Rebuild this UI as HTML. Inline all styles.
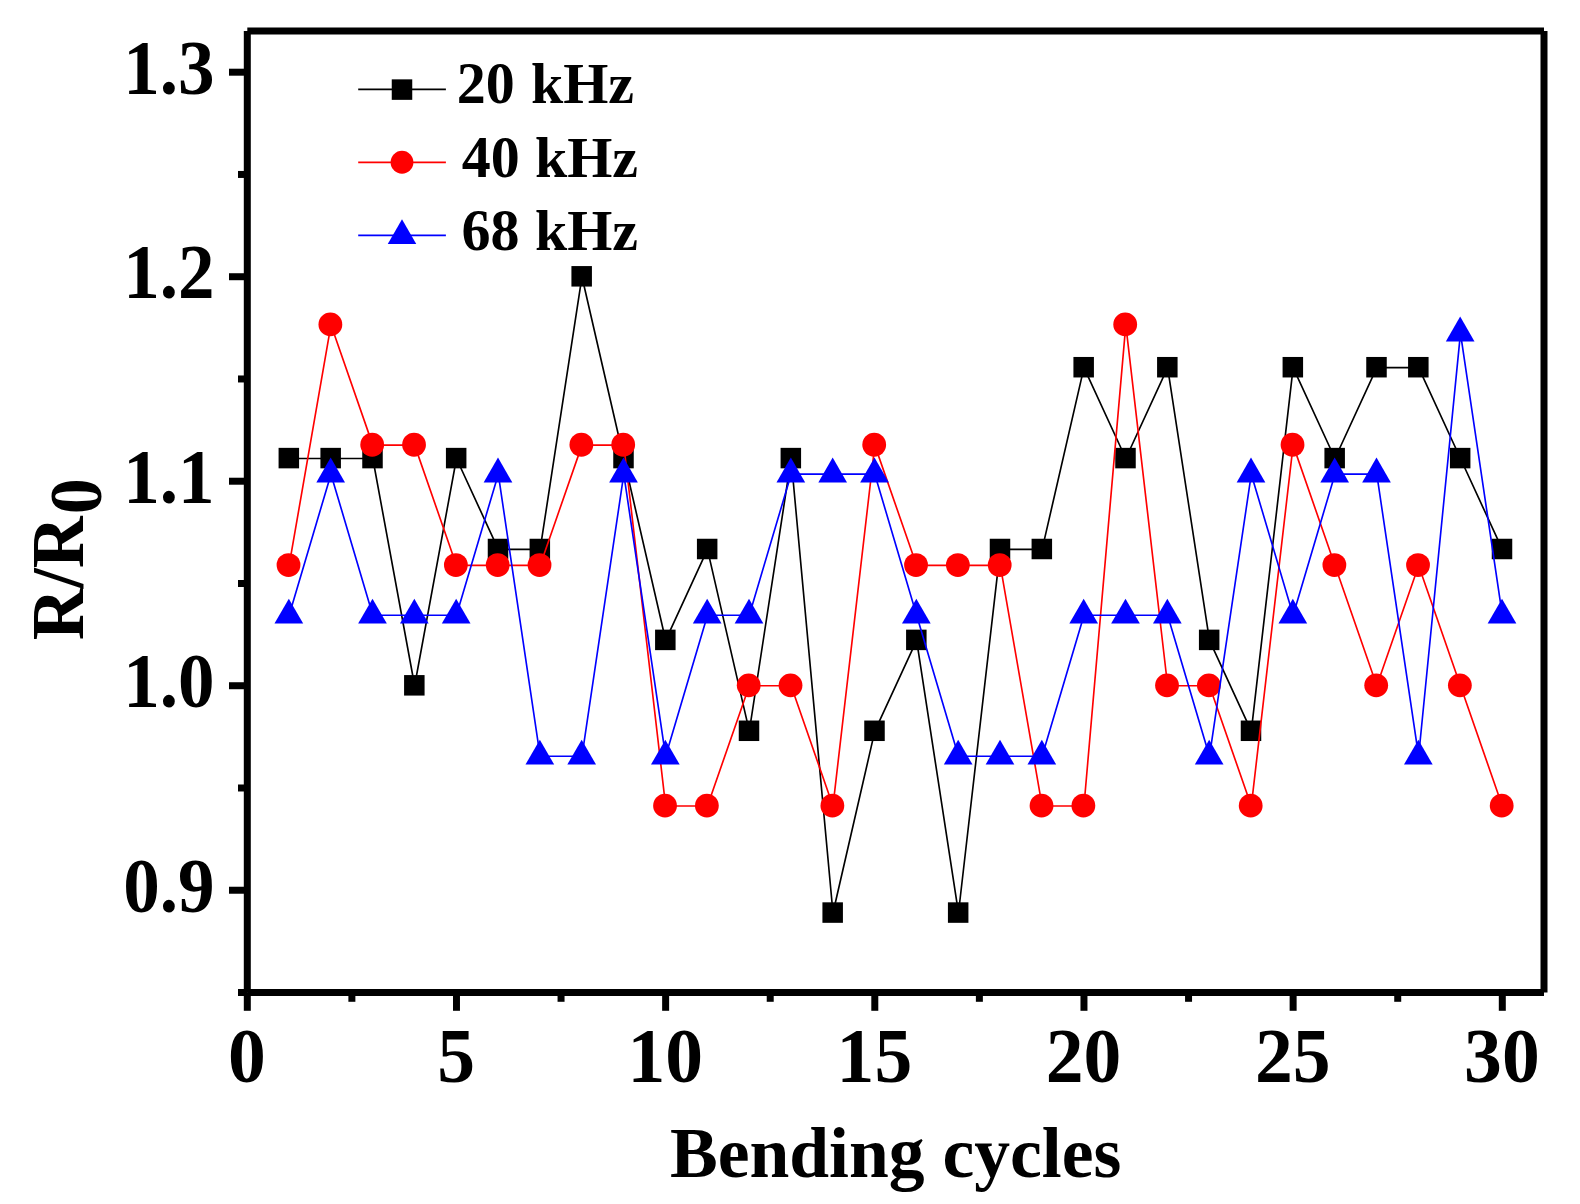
<!DOCTYPE html>
<html lang="en"><head><meta charset="utf-8"><title>R/R0 vs Bending cycles</title>
<style>html,body{margin:0;padding:0;background:#fff;overflow:hidden}svg{display:block}text{font-family:"Liberation Serif",serif;font-weight:bold;fill:#000}</style>
</head><body>
<svg width="1580" height="1204" viewBox="0 0 1580 1204">
<rect width="1580" height="1204" fill="#fff"/>
<polyline points="289.13,458.5 330.97,458.5 372.8,458.5 414.63,685.73 456.47,458.5 498.3,549.39 540.13,549.39 581.97,276.72 623.8,458.5 665.63,640.29 707.47,549.39 749.3,731.18 791.13,458.5 832.97,912.97 874.8,731.18 916.63,640.29 958.47,912.97 1000.3,549.39 1042.13,549.39 1083.97,367.61 1125.8,458.5 1167.63,367.61 1209.47,640.29 1251.3,731.18 1293.13,367.61 1334.97,458.5 1376.8,367.61 1418.63,367.61 1460.47,458.5 1502.3,549.39" fill="none" stroke="#000" stroke-width="1.65" stroke-linejoin="round"/>
<g fill="#000">
<rect x="278.58" y="447.85" width="20.5" height="20.5"/>
<rect x="320.42" y="447.85" width="20.5" height="20.5"/>
<rect x="362.25" y="447.85" width="20.5" height="20.5"/>
<rect x="404.08" y="675.08" width="20.5" height="20.5"/>
<rect x="445.92" y="447.85" width="20.5" height="20.5"/>
<rect x="487.75" y="538.75" width="20.5" height="20.5"/>
<rect x="529.58" y="538.75" width="20.5" height="20.5"/>
<rect x="571.42" y="266.07" width="20.5" height="20.5"/>
<rect x="613.25" y="447.85" width="20.5" height="20.5"/>
<rect x="655.08" y="629.64" width="20.5" height="20.5"/>
<rect x="696.92" y="538.75" width="20.5" height="20.5"/>
<rect x="738.75" y="720.53" width="20.5" height="20.5"/>
<rect x="780.58" y="447.85" width="20.5" height="20.5"/>
<rect x="822.42" y="902.32" width="20.5" height="20.5"/>
<rect x="864.25" y="720.53" width="20.5" height="20.5"/>
<rect x="906.08" y="629.64" width="20.5" height="20.5"/>
<rect x="947.92" y="902.32" width="20.5" height="20.5"/>
<rect x="989.75" y="538.75" width="20.5" height="20.5"/>
<rect x="1031.58" y="538.75" width="20.5" height="20.5"/>
<rect x="1073.42" y="356.96" width="20.5" height="20.5"/>
<rect x="1115.25" y="447.85" width="20.5" height="20.5"/>
<rect x="1157.08" y="356.96" width="20.5" height="20.5"/>
<rect x="1198.92" y="629.64" width="20.5" height="20.5"/>
<rect x="1240.75" y="720.53" width="20.5" height="20.5"/>
<rect x="1282.58" y="356.96" width="20.5" height="20.5"/>
<rect x="1324.42" y="447.85" width="20.5" height="20.5"/>
<rect x="1366.25" y="356.96" width="20.5" height="20.5"/>
<rect x="1408.08" y="356.96" width="20.5" height="20.5"/>
<rect x="1449.92" y="447.85" width="20.5" height="20.5"/>
<rect x="1491.75" y="538.75" width="20.5" height="20.5"/>
</g>
<polyline points="289.13,565.43 330.97,324.83 372.8,445.13 414.63,445.13 456.47,565.43 498.3,565.43 540.13,565.43 581.97,445.13 623.8,445.13 665.63,806.03 707.47,806.03 749.3,685.73 791.13,685.73 832.97,806.03 874.8,445.13 916.63,565.43 958.47,565.43 1000.3,565.43 1042.13,806.03 1083.97,806.03 1125.8,324.83 1167.63,685.73 1209.47,685.73 1251.3,806.03 1293.13,445.13 1334.97,565.43 1376.8,685.73 1418.63,565.43 1460.47,685.73 1502.3,806.03" fill="none" stroke="#f00" stroke-width="1.65" stroke-linejoin="round"/>
<g fill="#f00">
<circle cx="288.53" cy="565.03" r="11.9"/>
<circle cx="330.37" cy="324.43" r="11.9"/>
<circle cx="372.2" cy="444.73" r="11.9"/>
<circle cx="414.03" cy="444.73" r="11.9"/>
<circle cx="455.87" cy="565.03" r="11.9"/>
<circle cx="497.7" cy="565.03" r="11.9"/>
<circle cx="539.53" cy="565.03" r="11.9"/>
<circle cx="581.37" cy="444.73" r="11.9"/>
<circle cx="623.2" cy="444.73" r="11.9"/>
<circle cx="665.03" cy="805.63" r="11.9"/>
<circle cx="706.87" cy="805.63" r="11.9"/>
<circle cx="748.7" cy="685.33" r="11.9"/>
<circle cx="790.53" cy="685.33" r="11.9"/>
<circle cx="832.37" cy="805.63" r="11.9"/>
<circle cx="874.2" cy="444.73" r="11.9"/>
<circle cx="916.03" cy="565.03" r="11.9"/>
<circle cx="957.87" cy="565.03" r="11.9"/>
<circle cx="999.7" cy="565.03" r="11.9"/>
<circle cx="1041.53" cy="805.63" r="11.9"/>
<circle cx="1083.37" cy="805.63" r="11.9"/>
<circle cx="1125.2" cy="324.43" r="11.9"/>
<circle cx="1167.03" cy="685.33" r="11.9"/>
<circle cx="1208.87" cy="685.33" r="11.9"/>
<circle cx="1250.7" cy="805.63" r="11.9"/>
<circle cx="1292.53" cy="444.73" r="11.9"/>
<circle cx="1334.37" cy="565.03" r="11.9"/>
<circle cx="1376.2" cy="685.33" r="11.9"/>
<circle cx="1418.03" cy="565.03" r="11.9"/>
<circle cx="1459.87" cy="685.33" r="11.9"/>
<circle cx="1501.7" cy="805.63" r="11.9"/>
</g>
<polyline points="289.13,615.21 330.97,474.17 372.8,615.21 414.63,615.21 456.47,615.21 498.3,474.17 540.13,756.26 581.97,756.26 623.8,474.17 665.63,756.26 707.47,615.21 749.3,615.21 791.13,474.17 832.97,474.17 874.8,474.17 916.63,615.21 958.47,756.26 1000.3,756.26 1042.13,756.26 1083.97,615.21 1125.8,615.21 1167.63,615.21 1209.47,756.26 1251.3,474.17 1293.13,615.21 1334.97,474.17 1376.8,474.17 1418.63,756.26 1460.47,333.13 1502.3,615.21" fill="none" stroke="#00f" stroke-width="1.65" stroke-linejoin="round"/>
<g fill="#00f">
<polygon points="288.83,598.64 303.18,623.5 274.48,623.5"/>
<polygon points="330.67,457.6 345.02,482.46 316.32,482.46"/>
<polygon points="372.5,598.64 386.85,623.5 358.15,623.5"/>
<polygon points="414.33,598.64 428.68,623.5 399.98,623.5"/>
<polygon points="456.17,598.64 470.52,623.5 441.82,623.5"/>
<polygon points="498,457.6 512.35,482.46 483.65,482.46"/>
<polygon points="539.83,739.69 554.18,764.54 525.48,764.54"/>
<polygon points="581.67,739.69 596.02,764.54 567.32,764.54"/>
<polygon points="623.5,457.6 637.85,482.46 609.15,482.46"/>
<polygon points="665.33,739.69 679.68,764.54 650.98,764.54"/>
<polygon points="707.17,598.64 721.52,623.5 692.82,623.5"/>
<polygon points="749,598.64 763.35,623.5 734.65,623.5"/>
<polygon points="790.83,457.6 805.18,482.46 776.48,482.46"/>
<polygon points="832.67,457.6 847.02,482.46 818.32,482.46"/>
<polygon points="874.5,457.6 888.85,482.46 860.15,482.46"/>
<polygon points="916.33,598.64 930.68,623.5 901.98,623.5"/>
<polygon points="958.17,739.69 972.52,764.54 943.82,764.54"/>
<polygon points="1000,739.69 1014.35,764.54 985.65,764.54"/>
<polygon points="1041.83,739.69 1056.18,764.54 1027.48,764.54"/>
<polygon points="1083.67,598.64 1098.02,623.5 1069.32,623.5"/>
<polygon points="1125.5,598.64 1139.85,623.5 1111.15,623.5"/>
<polygon points="1167.33,598.64 1181.68,623.5 1152.98,623.5"/>
<polygon points="1209.17,739.69 1223.52,764.54 1194.82,764.54"/>
<polygon points="1251,457.6 1265.35,482.46 1236.65,482.46"/>
<polygon points="1292.83,598.64 1307.18,623.5 1278.48,623.5"/>
<polygon points="1334.67,457.6 1349.02,482.46 1320.32,482.46"/>
<polygon points="1376.5,457.6 1390.85,482.46 1362.15,482.46"/>
<polygon points="1418.33,739.69 1432.68,764.54 1403.98,764.54"/>
<polygon points="1460.17,316.56 1474.52,341.42 1445.82,341.42"/>
<polygon points="1502,598.64 1516.35,623.5 1487.65,623.5"/>
</g>
<g stroke="#000" stroke-width="7" fill="none">
<line x1="247.3" y1="31" x2="1544" y2="31"/>
<line x1="247.3" y1="992.5" x2="1544" y2="992.5"/>
<line x1="247.3" y1="31" x2="247.3" y2="992.5"/>
<line x1="1544" y1="31" x2="1544" y2="992.5"/>
<line x1="229" y1="890.24" x2="247.3" y2="890.24"/>
<line x1="229" y1="685.73" x2="247.3" y2="685.73"/>
<line x1="229" y1="481.22" x2="247.3" y2="481.22"/>
<line x1="229" y1="276.72" x2="247.3" y2="276.72"/>
<line x1="229" y1="72.2" x2="247.3" y2="72.2"/>
<line x1="238" y1="992.5" x2="247.3" y2="992.5"/>
<line x1="238" y1="787.99" x2="247.3" y2="787.99"/>
<line x1="238" y1="583.48" x2="247.3" y2="583.48"/>
<line x1="238" y1="378.97" x2="247.3" y2="378.97"/>
<line x1="238" y1="174.46" x2="247.3" y2="174.46"/>
<line x1="247.3" y1="992.5" x2="247.3" y2="1010.8"/>
<line x1="456.47" y1="992.5" x2="456.47" y2="1010.8"/>
<line x1="665.63" y1="992.5" x2="665.63" y2="1010.8"/>
<line x1="874.8" y1="992.5" x2="874.8" y2="1010.8"/>
<line x1="1083.97" y1="992.5" x2="1083.97" y2="1010.8"/>
<line x1="1293.13" y1="992.5" x2="1293.13" y2="1010.8"/>
<line x1="1502.3" y1="992.5" x2="1502.3" y2="1010.8"/>
<line x1="351.88" y1="992.5" x2="351.88" y2="1001.8"/>
<line x1="561.05" y1="992.5" x2="561.05" y2="1001.8"/>
<line x1="770.22" y1="992.5" x2="770.22" y2="1001.8"/>
<line x1="979.38" y1="992.5" x2="979.38" y2="1001.8"/>
<line x1="1188.55" y1="992.5" x2="1188.55" y2="1001.8"/>
<line x1="1397.72" y1="992.5" x2="1397.72" y2="1001.8"/>
</g>
<g font-size="72">
<text transform="translate(214.5,911.94) scale(1.015,1.075)" text-anchor="end">0.9</text>
<text transform="translate(214.5,707.43) scale(1.015,1.075)" text-anchor="end">1.0</text>
<text transform="translate(214.5,502.92) scale(1.015,1.075)" text-anchor="end">1.1</text>
<text transform="translate(214.5,298.42) scale(1.015,1.075)" text-anchor="end">1.2</text>
<text transform="translate(214.5,93.9) scale(1.015,1.075)" text-anchor="end">1.3</text>
<text transform="translate(246.9,1081.8) scale(1.05,1.085)" text-anchor="middle">0</text>
<text transform="translate(456.07,1081.8) scale(1.05,1.085)" text-anchor="middle">5</text>
<text transform="translate(665.23,1081.8) scale(1.05,1.085)" text-anchor="middle">10</text>
<text transform="translate(874.4,1081.8) scale(1.05,1.085)" text-anchor="middle">15</text>
<text transform="translate(1083.57,1081.8) scale(1.05,1.085)" text-anchor="middle">20</text>
<text transform="translate(1292.73,1081.8) scale(1.05,1.085)" text-anchor="middle">25</text>
<text transform="translate(1501.9,1081.8) scale(1.05,1.085)" text-anchor="middle">30</text>
<text x="895.65" y="1177.3" text-anchor="middle" font-size="71.6">Bending cycles</text>
<text transform="translate(83.1,640.2) rotate(-90) scale(1,1.03)">R/R</text>
<text transform="translate(101.3,514.2) rotate(-90) scale(1.0,1.04)">0</text>
</g>
<g font-size="58">
<line x1="358.2" y1="89.4" x2="445.9" y2="89.4" stroke="#000" stroke-width="1.7"/>
<rect x="391.75" y="79.35" width="20.5" height="20.5" fill="#000"/>
<text transform="translate(456.8,103.2) scale(1.0,1.03)">20</text>
<text x="634" y="103.2" text-anchor="end">kHz</text>
<line x1="358.2" y1="162.3" x2="445.9" y2="162.3" stroke="#f00" stroke-width="1.7"/>
<circle cx="402" cy="162.25" r="11.4" fill="#f00"/>
<text transform="translate(461.8,176.7) scale(1.0,1.03)">40</text>
<text x="638" y="176.7" text-anchor="end">kHz</text>
<line x1="358.2" y1="235.4" x2="445.9" y2="235.4" stroke="#00f" stroke-width="1.7"/>
<polygon points="402,219.2 416.25,243.88 387.75,243.88" fill="#00f"/>
<text transform="translate(461.4,249.6) scale(1.0,1.03)">68</text>
<text x="638" y="249.6" text-anchor="end">kHz</text>
</g>
</svg>
</body></html>
